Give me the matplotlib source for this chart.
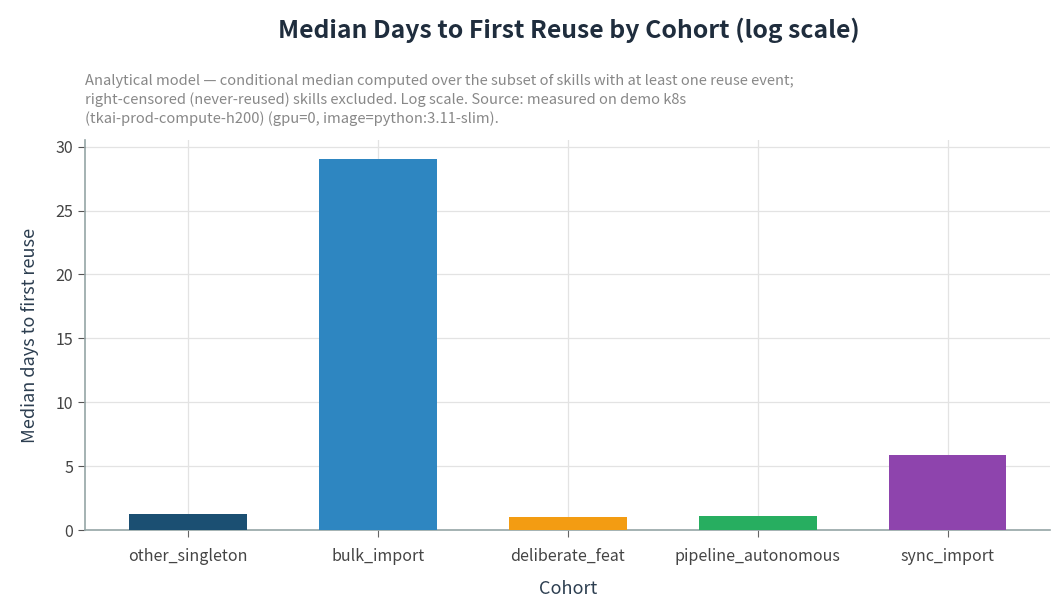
import matplotlib
matplotlib.use("Agg")
from matplotlib import pyplot as plt

cohorts = ["other_singleton", "bulk_import", "deliberate_feat", "pipeline_autonomous", "sync_import"]
median_days = [1.25, 29.0, 1.0, 1.1, 5.9]
colors = ["#1b4f72", "#2e86c1", "#f39c12", "#27ae60", "#8e44ad"]

subtitle = ("Analytical model \u2014 conditional median computed over the subset of skills with at least one reuse event;\n"
            "right-censored (never-reused) skills excluded. Log scale. Source: measured on demo k8s\n"
            "(tkai-prod-compute-h200) (gpu=0, image=python:3.11-slim).")

if __name__ == '__main__':
    plt.rcParams['font.family'] = ['Noto Sans CJK KR', 'DejaVu Sans']
    fig = plt.figure(figsize=(10.64, 6.15), dpi=100)
    ax = fig.add_axes([0.08, 0.138, 0.907, 0.634])

    x = list(range(len(cohorts)))
    ax.bar(x, median_days, width=0.62, color=colors, zorder=3)
    ax.set_xticks(x)
    ax.set_xticklabels(cohorts)
    ax.set_xlim(-0.54, len(cohorts) - 0.46)
    ax.set_ylim(0, 30.5)
    ax.set_yticks([0, 5, 10, 15, 20, 25, 30])

    ax.grid(True, color="#e3e3e3", linewidth=0.9, zorder=0)
    for s in ["top", "right"]:
        ax.spines[s].set_visible(False)
    for s in ["left", "bottom"]:
        ax.spines[s].set_color("#95a5a6")
        ax.spines[s].set_linewidth(1.2)
    ax.tick_params(colors="#555555", labelsize=11.5, length=5)
    ax.tick_params(axis="x", colors="#666666", pad=8)
    for lab in ax.get_xticklabels() + ax.get_yticklabels():
        lab.set_color("#444444")

    ax.set_xlabel("Cohort", fontsize=13, color="#2c3e50", labelpad=11)
    ax.set_ylabel("Median days to first reuse", fontsize=13, color="#2c3e50", labelpad=12)

    fig.text(0.535, 0.950, "Median Days to First Reuse by Cohort (log scale)",
             ha="center", va="center", fontsize=17.8, fontweight="bold", color="#1f2d3d")
    fig.text(0.08, 0.795, subtitle, ha="left", va="bottom", fontsize=10.6,
             color="#888888", linespacing=1.35)

    plt.savefig("out.png", dpi=100)
